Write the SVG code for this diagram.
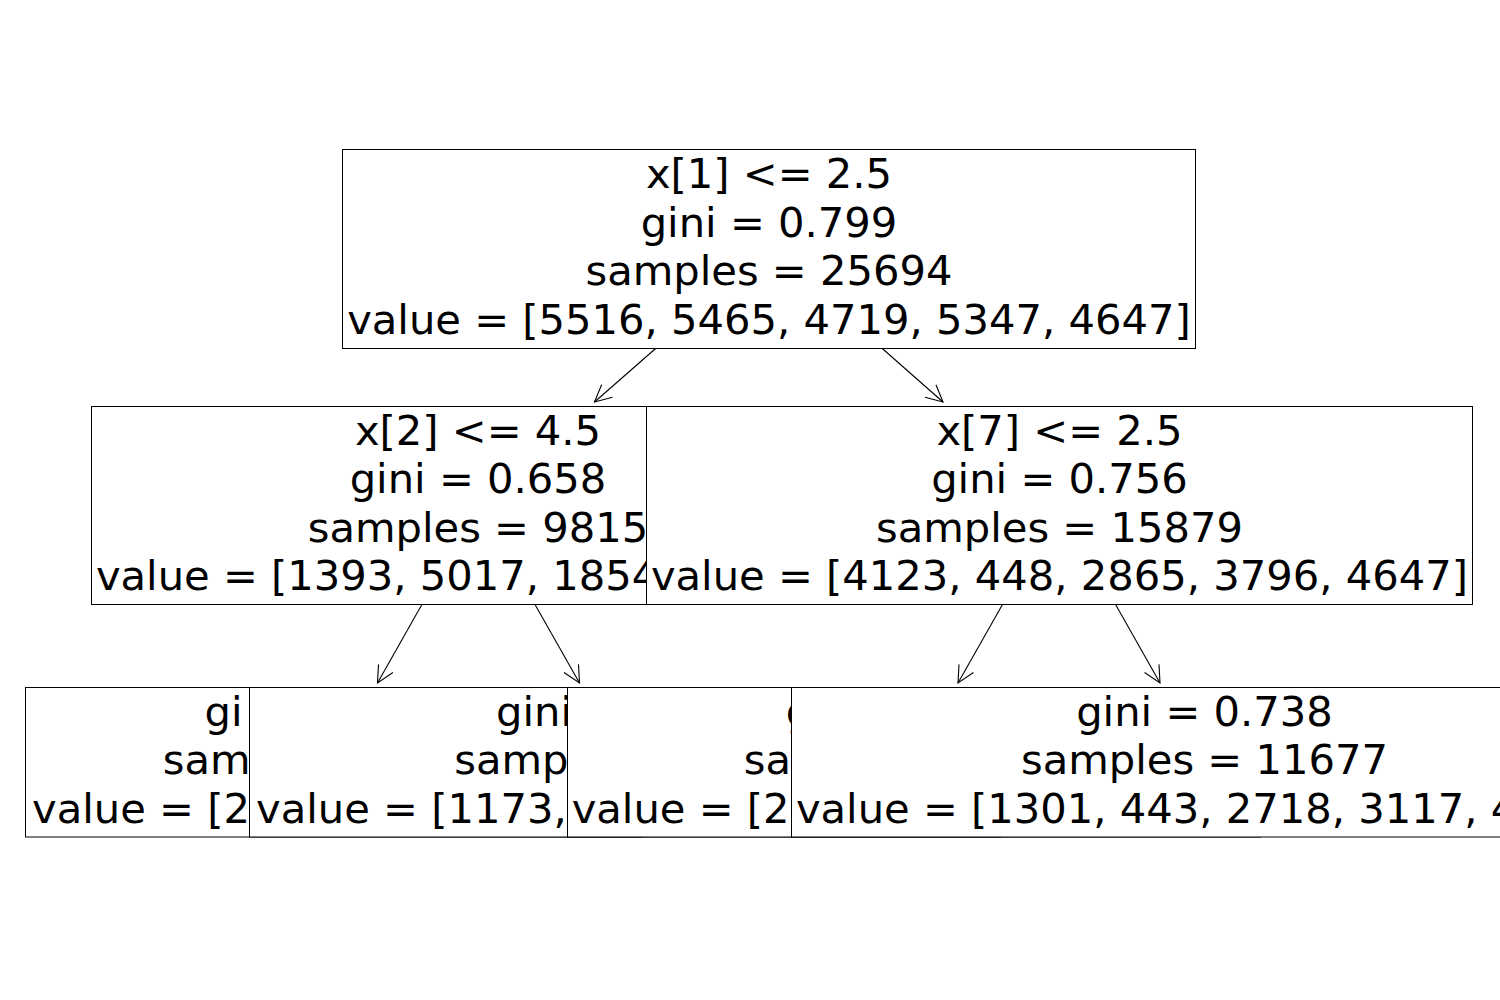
<svg xmlns="http://www.w3.org/2000/svg" width="1500" height="1000" viewBox="0 0 1500 1000">
<style>
.box{fill:#fff;stroke:#000;stroke-width:1}
.t{font-family:"DejaVu Sans","Liberation Sans",sans-serif;font-size:41.67px;fill:#000}
.m{text-anchor:middle}
.edge{stroke:#000;stroke-width:1.1;fill:none;marker-end:url(#ah)}
</style>
<defs>
<marker id="ah" markerUnits="userSpaceOnUse" markerWidth="40" markerHeight="40" viewBox="-20 -20 40 40" refX="0" refY="0" orient="auto">
<path d="M-16.7,-8.3 L0,0 L-16.7,8.3" fill="none" stroke="#000" stroke-width="1.1"/>
</marker>
</defs>
<rect width="1500" height="1000" fill="#fff"/>
<g id="connectors">
<line class="edge" x1="655.6" y1="348.5" x2="594.5" y2="402"/>
<line class="edge" x1="882.3" y1="348.5" x2="943" y2="402"/>
<line class="edge" x1="421.9" y1="604.5" x2="377.5" y2="683"/>
<line class="edge" x1="535" y1="604.5" x2="579.5" y2="683"/>
<line class="edge" x1="1002.5" y1="604.5" x2="958" y2="683"/>
<line class="edge" x1="1115.6" y1="604.5" x2="1160" y2="683"/>
</g>
<g id="node0">
<rect class="box" x="342.5" y="149.5" width="853" height="199"/>
<text class="t m" x="769" y="188">x[1] &lt;= 2.5</text>
<text class="t m" x="769" y="236.5">gini = 0.799</text>
<text class="t m" x="769" y="285">samples = 25694</text>
<text class="t m" x="769" y="333.5">value = [5516, 5465, 4719, 5347, 4647]</text>
</g>
<g id="node1">
<rect class="box" x="91.5" y="406.5" width="773" height="198"/>
<text class="t m" x="478" y="444.5">x[2] &lt;= 4.5</text>
<text class="t m" x="478" y="493">gini = 0.658</text>
<text class="t m" x="478" y="541.5">samples = 9815</text>
<text class="t m" x="478" y="590">value = [1393, 5017, 1854, 1551, 0]</text>
</g>
<g id="node2">
<rect class="box" x="25.5" y="687.5" width="616" height="149.5"/>
<text class="t" x="204.6" y="725.5">gi</text>
<text class="t" x="162.7" y="774">sam</text>
<text class="t" x="32" y="822.5">value = [2</text>
</g>
<g id="node3">
<rect class="box" x="249.5" y="687.5" width="751" height="149.5"/>
<text class="t" x="496" y="725.5">gini</text>
<text class="t" x="454.2" y="774">samp</text>
<text class="t" x="256" y="822.5">value = [1173,</text>
</g>
<g id="node4">
<rect class="box" x="646.5" y="406.5" width="826" height="198"/>
<text class="t m" x="1059.5" y="444.5">x[7] &lt;= 2.5</text>
<text class="t m" x="1059.5" y="493">gini = 0.756</text>
<text class="t m" x="1059.5" y="541.5">samples = 15879</text>
<text class="t m" x="1059.5" y="590">value = [4123, 448, 2865, 3796, 4647]</text>
</g>
<g id="node5">
<rect class="box" x="567.5" y="687.5" width="693" height="149.5"/>
<text class="t m" x="914" y="725.5">gini = 0.505</text>
<text class="t m" x="914" y="774">samples = 4202</text>
<text class="t m" x="914" y="822.5">value = [2822, 5, 147, 679, 549]</text>
</g>
<g id="node6">
<rect class="box" x="791.5" y="687.5" width="827" height="149.5"/>
<text class="t m" x="1204.5" y="725.5">gini = 0.738</text>
<text class="t m" x="1204.5" y="774">samples = 11677</text>
<text class="t m" x="1204.5" y="822.5">value = [1301, 443, 2718, 3117, 4098]</text>
</g>
</svg>
